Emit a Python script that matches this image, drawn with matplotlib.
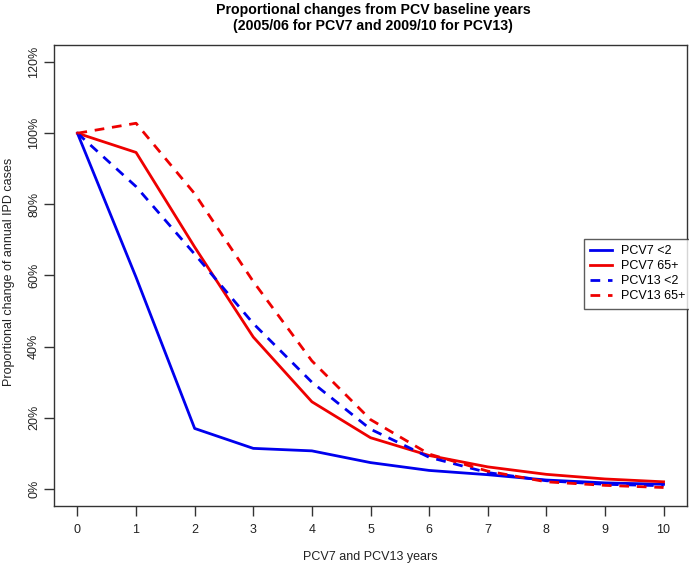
import matplotlib
matplotlib.use("Agg")
import matplotlib.pyplot as plt
from matplotlib.ticker import FuncFormatter

years = [0, 1, 2, 3, 4, 5, 6, 7, 8, 9, 10]
pcv7_u2 = [100, 59.5, 17.0, 11.4, 10.7, 7.4, 5.2, 4.0, 2.5, 1.7, 1.3]
pcv7_65 = [100, 94.6, 68.0, 42.7, 24.5, 14.4, 9.4, 6.2, 4.1, 2.8, 2.0]
pcv13_u2 = [100, 85.0, 66.0, 46.5, 30.0, 16.8, 8.9, 4.6, 2.3, 1.3, 0.9]
pcv13_65 = [100, 102.8, 83.0, 58.3, 36.0, 19.5, 9.8, 5.0, 2.0, 1.0, 0.4]
labels = ["PCV7 <2", "PCV7 65+", "PCV13 <2", "PCV13 65+"]
yticks = [0, 20, 40, 60, 80, 100, 120]

plt.rcParams['font.family'] = ['Liberation Sans', 'DejaVu Sans']

W, H = 689, 567
fig = plt.figure(figsize=(W / 100, H / 100), dpi=100)
left, right, top, bottom = 54, 687, 45, 506
ax = fig.add_axes([left / W, 1 - bottom / H, (right - left) / W, (bottom - top) / H])

dash = (0, (3.5, 2.8))
ax.plot(years, [v / 100 for v in pcv7_u2], color="#0000EE", lw=2, label=labels[0])
ax.plot(years, [v / 100 for v in pcv7_65], color="#EE0000", lw=2, label=labels[1])
ax.plot(years, [v / 100 for v in pcv13_u2], color="#0000EE", lw=2, ls=dash, label=labels[2])
ax.plot(years, [v / 100 for v in pcv13_65], color="#EE0000", lw=2, ls=dash, label=labels[3])

ax.set_xlim(-0.4, 10.4)
ax.set_ylim(-0.048, 1.248)
ax.set_xticks(years)
ax.set_yticks([t / 100 for t in yticks])
ax.yaxis.set_major_formatter(FuncFormatter(lambda v, p: f"{v*100:.0f}%"))
for lab in ax.get_yticklabels():
    lab.set_rotation(90)
    lab.set_va("center")
ax.tick_params(axis="both", direction="out", length=7, width=1, colors="#333333",
               labelsize=9, labelcolor="#222222")
ax.tick_params(axis="x", pad=6)
ax.tick_params(axis="y", pad=3)
for s in ax.spines.values():
    s.set_color("#333333")
    s.set_linewidth(1)

fig.text(0.5 * (left + right) / W + 0.004, 1 - 10 / H, "Proportional changes from PCV baseline years",
         ha="center", va="center", fontsize=10.2, fontweight="bold")
fig.text(0.5 * (left + right) / W + 0.004, 1 - 26 / H, "(2005/06 for PCV7 and 2009/10 for PCV13)",
         ha="center", va="center", fontsize=10.2, fontweight="bold")
fig.text(0.5 * (left + right) / W, 1 - 557 / H, "PCV7 and PCV13 years",
         ha="center", va="center", fontsize=9, color="#222222")
fig.text(9 / W, 1 - 272 / H, "Proportional change of annual IPD cases",
         ha="center", va="center", rotation=90, fontsize=9, color="#222222")

leg = ax.legend(loc="upper left", bbox_to_anchor=(584 / W, 1 - 239 / H),
                bbox_transform=fig.transFigure, fontsize=9, frameon=True,
                fancybox=False, edgecolor="#333333", handlelength=1.7,
                handletextpad=0.75, borderpad=0.5, labelspacing=0.24,
                borderaxespad=0)
leg.get_frame().set_linewidth(1)
leg.set_clip_on(False)

fig.savefig("out.png", dpi=100)
